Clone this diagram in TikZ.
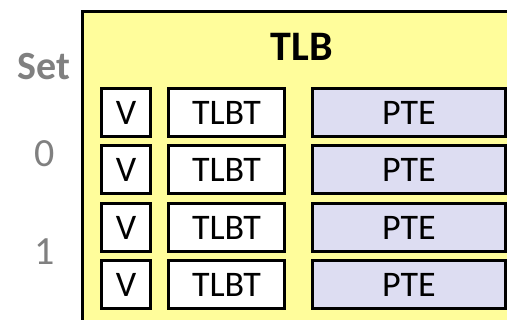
\documentclass[tikz,border=0pt]{standalone}
\usepackage{fontspec}
\setmainfont{Carlito}
\definecolor{tlbyellow}{RGB}{255,253,155}
\definecolor{ptefill}{RGB}{221,221,242}
\definecolor{setgray}{RGB}{128,128,128}
\begin{document}
\begin{tikzpicture}[x=1pt,y=-1pt,
  cellbox/.style={draw=black,line width=3pt,fill=white,inner sep=0pt,anchor=north west,
    font=\fontsize{36}{40}\selectfont},
  ptebox/.style={cellbox,fill=ptefill},
  setlabel/.style={text=setgray,font=\fontsize{40}{44}\selectfont}]
\useasboundingbox (0,0) rectangle (507,320);
\clip (0,0) rectangle (507,320);
\node[draw=black,line width=3pt,fill=tlbyellow,minimum width=440pt,minimum height=330pt,anchor=north west,inner sep=0pt] (tlb) at (81,10) {};
\node[font=\bfseries\fontsize{42}{46}\selectfont] (tlbtitle) at (302,47) {TLB};
\node[setlabel,font=\bfseries\fontsize{40}{44}\selectfont] (setlab) at (44,67) {Set};
\node[setlabel] (set0) at (45,154) {0};
\node[setlabel] (set1) at (45,252) {1};
\foreach \i/\y in {1/87,2/144.5,3/202,4/259.5}{
  \node[cellbox,minimum width=49pt,minimum height=48pt] (v\i) at (100,\y) {V};
  \node[cellbox,minimum width=116pt,minimum height=48pt] (t\i) at (167,\y) {TLBT};
  \node[ptebox,minimum width=193pt,minimum height=48pt] (p\i) at (311,\y) {PTE};
}
\end{tikzpicture}
\end{document}
